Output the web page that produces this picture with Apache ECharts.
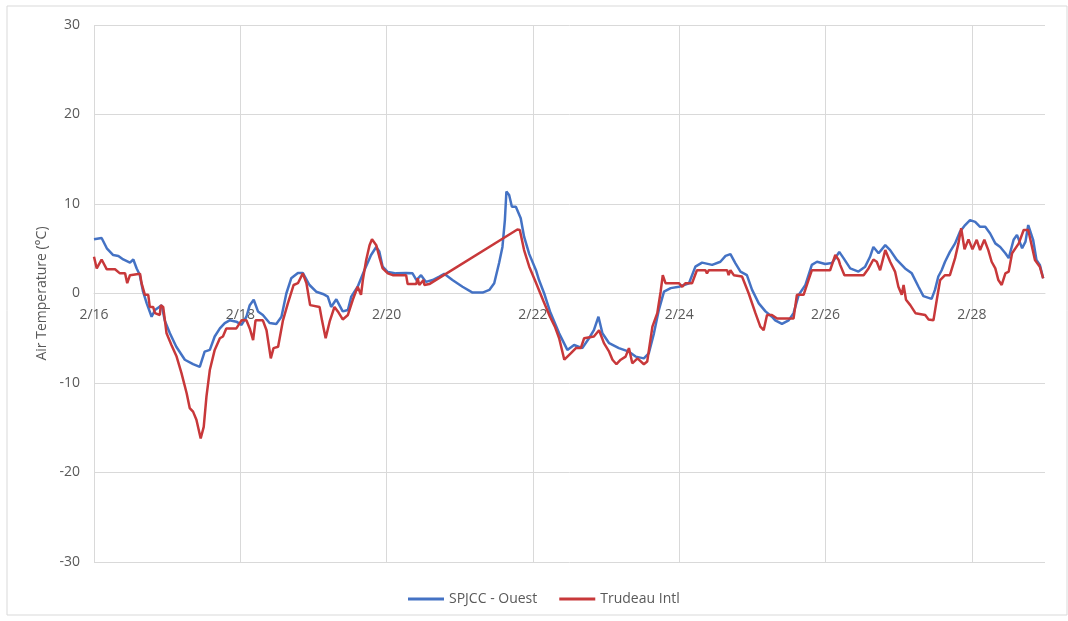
<!DOCTYPE html>
<html>
<head>
<meta charset="utf-8">
<script src="https://cdn.jsdelivr.net/npm/echarts@6/dist/echarts.min.js"></script>
<style>
  html, body { margin: 0; padding: 0; background: #fff; }
  #main { width: 1068px; height: 621px; }
</style>
</head>
<body>
<div id="main"></div>
<script>
// hours since 2/16 00:00
var tickLabels = ['2/16', '2/18', '2/20', '2/22', '2/24', '2/26', '2/28'];
var seriesNames = ['SPJCC - Ouest', 'Trudeau Intl'];

var ouestHours = [0, 2.5, 4.2, 6.3, 8, 9.6, 11.8, 12.9, 14, 15, 16.1, 17.3, 18.9, 20, 22.2, 23.2, 24.9, 27, 29.8, 32.5,
  34.7, 36.3, 38, 39.6, 41.3, 42.9, 44.5, 46.7, 48.4, 50, 51.1, 52.4, 53.8, 55.4, 57.6, 59.8, 61.5, 63.1, 64.7, 66.9,
  68.5, 70.7, 72.9, 75.1, 76.7, 77.8, 79.5, 81.6, 83.3, 84.4, 86.5, 88.7, 90.9, 92.6, 93.6, 94.7, 96.4, 99.1, 102.4, 104.5,
  105.8, 107.3, 108.9, 111.1, 113.3, 114.9, 117.6, 120.9, 124.2, 127.5, 129.7, 131.3, 132.9, 134, 134.8, 135.3, 136.2, 137.1, 138.4, 140,
  141.1, 142.8, 145, 146, 147.7, 149.6, 152.6, 155.3, 157.5, 160.2, 162.4, 164, 165.5, 166.8, 169, 172.2, 175.5, 177.7, 180.4, 182,
  183.7, 185.3, 187, 189.2, 191.9, 195.2, 197.3, 199.5, 202.8, 205.5, 207.2, 208.8, 210.4, 212.1, 214.2, 215.9, 218.1, 220.3, 222.4, 223.5,
  225.7, 227.9, 229.5, 231.2, 233.4, 235.5, 237.2, 239.9, 242.1, 243.2, 244.5, 245.9, 248.1, 250.8, 253, 254.6, 255.7, 257.4, 259.6, 261.2,
  263.4, 266.1, 268.3, 270.5, 272.1, 274.8, 275.9, 277, 278.1, 279.2, 280.8, 282.5, 284.1, 285.8, 287.4, 289.1, 290.7, 292.4, 294, 295.7,
  297.3, 299, 300.1, 301.7, 302.8, 304.5, 305.6, 306.5, 308.1, 309.2, 310.3, 311.4];
var ouestTemps = [6.05, 6.2, 5.05, 4.3, 4.2, 3.8, 3.45, 3.8, 2.8, 2.1, 0.2, -1.1, -2.6, -1.85, -1.3, -3.0, -4.45, -5.95, -7.4, -7.9,
  -8.2, -6.5, -6.3, -4.8, -3.9, -3.3, -3.0, -3.15, -3.5, -2.6, -1.3, -0.7, -2.0, -2.4, -3.3, -3.4, -2.6, 0, 1.7, 2.3,
  2.3, 0.95, 0.2, -0.05, -0.35, -1.5, -0.65, -2.0, -1.85, -0.35, 0.75, 2.6, 4.3, 5.2, 4.7, 3.0, 2.4, 2.25, 2.3, 2.25,
  1.5, 2.05, 1.3, 1.5, 1.9, 2.2, 1.5, 0.75, 0.1, 0.1, 0.4, 1.15, 3.4, 5.2, 8.2, 11.4, 11.0, 9.7, 9.7, 8.4,
  6.35, 4.4, 2.6, 1.5, 0, -2.0, -4.45, -6.3, -5.75, -6.1, -5.0, -4.1, -2.6, -4.45, -5.55, -6.1, -6.5, -7.05, -7.25, -6.7,
  -4.45, -1.85, 0.2, 0.6, 0.75, 1.15, 3.0, 3.45, 3.2, 3.55, 4.2, 4.4, 3.4, 2.45, 2.05, 0.4, -1.1, -2.0, -2.6, -3.0,
  -3.4, -3.0, -2.2, -0.15, 0.95, 3.2, 3.55, 3.3, 3.4, 3.95, 4.65, 3.95, 2.8, 2.45, 3.0, 4.1, 5.2, 4.5, 5.4, 4.85,
  3.75, 2.8, 2.25, 0.75, -0.3, -0.6, 0.4, 1.9, 2.6, 3.55, 4.65, 5.6, 6.9, 7.65, 8.2, 8.0, 7.45, 7.45, 6.7, 5.6,
  5.2, 4.5, 3.95, 6.0, 6.55, 5.05, 5.8, 7.65, 6.0, 3.75, 3.2, 1.7];

var trudeauHours = [0, 0.9, 2.5, 4.2, 6.9, 8.5, 10.2, 10.9, 11.8, 15.1, 15.6, 16.7, 17.8, 18.3, 19.4, 20, 21.6, 21.9, 22.7, 23.8,
  25.4, 27.1, 28.7, 30.4, 31.4, 32.5, 33.6, 35, 36, 36.9, 38, 39.6, 41.3, 42.3, 43.4, 46.7, 48.4, 50, 51.1, 52.2,
  53, 55.4, 56.6, 58, 58.9, 60.4, 62, 63.6, 65.5, 66.9, 68.5, 69.7, 70.9, 74, 74.8, 76, 77.3, 78.9, 80, 81.6,
  83.3, 84.9, 86.5, 87.6, 88.2, 89.3, 90.4, 91.2, 92.6, 93.6, 94.7, 96.4, 98, 102.4, 102.9, 105.7, 106.2, 106.7, 108.1, 108.4,
  110, 138.9, 139.7, 141.1, 142.8, 145, 147.4, 149.6, 151.2, 152.6, 154.3, 156.4, 158.1, 159.7, 160.8, 164, 165.7, 167.3, 169, 170.1,
  171.4, 172.8, 174.4, 175.5, 176.6, 178.3, 180.4, 181.5, 183.2, 184.8, 185.9, 186.6, 187.5, 191.9, 193, 194, 196.2, 197.8, 200.6, 201.1,
  201.7, 207.7, 208.2, 208.8, 209.9, 212.6, 214.8, 217, 218.6, 219.7, 220.8, 222.4, 224.1, 229.5, 230.6, 232.8, 234.4, 235.5, 241.5, 243.2,
  244.3, 244.8, 246.2, 252.5, 254.1, 255.7, 256.8, 257.9, 259.6, 261.2, 262.8, 263.9, 265, 265.6, 266.4, 267.8, 269.5, 272.7, 273.8, 275.4,
  276.5, 277.6, 279.2, 280.8, 282.5, 283.6, 284.5, 285.6, 286.9, 288.2, 289.6, 290.7, 292.1, 293.4, 294.5, 295.7, 296.7, 297.8, 299, 300.1,
  301.2, 303.4, 305, 306.5, 308.7, 310.3, 311.4];
var trudeauTemps = [4.1, 2.8, 3.8, 2.7, 2.7, 2.25, 2.25, 1.15, 2.05, 2.2, 1.15, -0.15, -0.15, -1.5, -1.5, -2.2, -2.4, -1.3, -1.5, -4.45,
  -5.75, -7.05, -8.9, -11.15, -12.8, -13.2, -14.1, -16.2, -14.9, -11.5, -8.55, -6.3, -5.0, -4.8, -3.9, -3.9, -3.0, -3.0, -3.9, -5.2,
  -3.0, -3.0, -4.1, -7.25, -6.1, -5.95, -3.0, -1.1, 0.95, 1.15, 2.25, 1.15, -1.3, -1.5, -3.0, -5.0, -3.15, -1.5, -2.0, -2.9,
  -2.4, -0.7, 0.75, -0.15, 1.5, 3.75, 5.4, 6.05, 5.4, 4.1, 2.8, 2.25, 2.05, 2.05, 1.05, 1.05, 1.7, 0.95, 1.5, 0.95,
  1.05, 7.15, 7.1, 4.85, 3.0, 1.2, -0.8, -2.6, -3.7, -5.0, -7.4, -6.7, -6.1, -6.1, -5.0, -4.8, -4.1, -5.55, -6.5, -7.4,
  -7.9, -7.4, -7.05, -6.1, -7.8, -7.25, -7.9, -7.6, -3.7, -2.2, 0.2, 2.05, 1.15, 1.15, 0.75, 1.15, 1.15, 2.6, 2.6, 2.25,
  2.6, 2.6, 2.05, 2.6, 2.05, 1.9, 0, -2.2, -3.7, -4.1, -2.4, -2.4, -2.8, -2.8, -0.15, -0.15, 1.5, 2.6, 2.6, 4.3,
  3.75, 3.2, 2.05, 2.05, 2.8, 3.8, 3.55, 2.6, 4.85, 3.55, 2.45, 0.75, -0.15, 0.95, -0.7, -1.3, -2.2, -2.4, -2.9, -3.0,
  -0.7, 1.5, 2.05, 2.05, 3.95, 5.6, 7.3, 4.95, 6.05, 4.95, 6.0, 4.85, 6.0, 4.85, 3.55, 2.8, 1.5, 0.95, 2.25, 2.45,
  4.5, 5.6, 7.1, 7.1, 3.75, 3.0, 1.7];

function zip(xs, ys) {
  var out = [];
  for (var i = 0; i < xs.length; i++) out.push([xs[i], ys[i]]);
  return out;
}

var textColor = '#595959';
var gridColor = '#d9d9d9';

var option = {
  animation: false,
  backgroundColor: '#fff',
  textStyle: { fontFamily: 'Open Sans' },
  graphic: [{
    type: 'rect',
    shape: { x: 7, y: 6, width: 1060, height: 609 },
    style: { fill: 'none', stroke: gridColor, lineWidth: 1 },
    silent: true
  }],
  grid: { left: 94, right: 23, top: 25, bottom: 59 },
  legend: {
    bottom: 10,
    left: 403,
    icon: 'rect',
    itemWidth: 36,
    itemHeight: 3,
    itemGap: 22,
    textStyle: { color: textColor, fontSize: 14, fontFamily: 'Open Sans' },
    data: seriesNames
  },
  xAxis: {
    type: 'value',
    min: 0,
    max: 312,
    interval: 48,
    // the axis sits on the 0 line of the temperature scale
    offset: -268.5,
    axisLine: { onZero: false, lineStyle: { color: gridColor, width: 1 } },
    axisTick: { show: false },
    axisLabel: {
      color: textColor,
      fontSize: 14,
      margin: 15,
      showMaxLabel: false,
      formatter: function (v) {
        return v % 48 === 0 ? (tickLabels[v / 48] || '') : '';
      }
    },
    splitLine: { show: true, showMaxLine: false, lineStyle: { color: gridColor, width: 1 } }
  },
  yAxis: {
    type: 'value',
    min: -30,
    max: 30,
    interval: 10,
    name: 'Air Temperature (°C)',
    nameLocation: 'middle',
    nameGap: 44,
    nameTextStyle: { color: textColor, fontSize: 14 },
    axisLine: { show: false },
    axisTick: { show: false },
    axisLabel: { color: textColor, fontSize: 14, margin: 14 },
    splitLine: { lineStyle: { color: gridColor, width: 1 } }
  },
  series: [
    {
      name: seriesNames[0],
      type: 'line',
      showSymbol: false,
      color: '#4472C4',
      lineStyle: { width: 2.5, color: '#4472C4' },
      data: zip(ouestHours, ouestTemps)
    },
    {
      name: seriesNames[1],
      type: 'line',
      showSymbol: false,
      color: '#C8383A',
      lineStyle: { width: 2.5, color: '#C8383A' },
      data: zip(trudeauHours, trudeauTemps)
    }
  ]
};

var myChart = echarts.init(document.getElementById('main'));
myChart.setOption(option);
</script>
</body>
</html>
